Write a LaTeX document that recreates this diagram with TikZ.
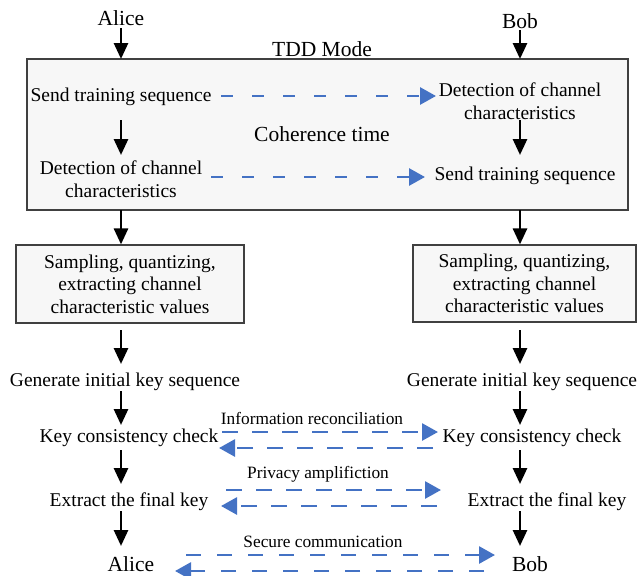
\documentclass[tikz,border=0pt]{standalone}
\usepackage{fontspec}
\setmainfont{Liberation Serif}
\usetikzlibrary{arrows.meta}
\definecolor{dblue}{HTML}{4472C4}
\definecolor{boxfill}{HTML}{F7F7F7}
\tikzset{
  title/.style={font=\fontsize{21.5}{24}\selectfont, inner sep=0pt},
  ttitle/.style={title, yshift=-1.5pt},
  body/.style={font=\fontsize{19.5}{22.5}\selectfont, align=center, inner sep=0pt},
  tbody/.style={body, yshift=-2pt},
  lab/.style={font=\fontsize{17.3}{20}\selectfont, inner sep=0pt, yshift=-1pt},
  flow/.style={line width=2.8pt, -{Triangle[width=14pt,length=16pt]}},
  msg/.style={line width=2.8pt, dblue, -{Triangle[width=17pt,length=16pt]}},
  msgA/.style={msg, dash pattern=on 12pt off 19pt},
  msgB/.style={msg, dash pattern=on 16pt off 14pt},
  frame/.style={draw=black!75, line width=1.2pt, fill=boxfill},
}
\begin{document}
\begin{tikzpicture}[x=1pt,y=-1pt]
\useasboundingbox (0,0) rectangle (638,576);
% big TDD box
\draw[frame] (27,59) rectangle (628,210);
\coordinate (bigTL) at (121,59);
\coordinate (bigTR) at (520,59);
\coordinate (bigBL) at (121,210);
\coordinate (bigBR) at (520,210);
% top labels
\node[ttitle] (alice) at (121,17) {Alice};
\node[ttitle] (bob) at (520,20) {Bob};
\node[ttitle] (tdd) at (322,48) {TDD Mode};
\node[ttitle] (coh) at (322,133) {Coherence time};
\coordinate (aliceS) at (121,28);
\coordinate (bobS) at (520,30);
\draw[flow] (aliceS) -- (bigTL);
\draw[flow] (bobS) -- (bigTR);
% inside box
\node[tbody] (sendL) at (121,95) {Send training sequence};
\node[tbody] (detR) at (520,99) {Detection of channel\\characteristics};
\node[tbody] (detL) at (121,177) {Detection of channel\\characteristics};
\node[tbody] (sendR) at (525,174) {Send training sequence};
\coordinate (sendLb) at (121,120);
\coordinate (detLt) at (121,155);
\coordinate (detRb) at (520,120);
\coordinate (sendRt) at (520,155);
\draw[flow] (sendLb) -- (detLt);
\draw[flow] (detRb) -- (sendRt);
\coordinate (sL) at (221,96);
\coordinate (dR) at (436,96);
\draw[msgA] (sL) -- (dR);
\coordinate (dL) at (211,177);
\coordinate (sR) at (425,177);
\draw[msgA] (dL) -- (sR);
% sampling boxes
\node[body, frame, minimum width=228pt, minimum height=78pt] (sampL) at (130,284) {Sampling, quantizing,\\extracting channel\\characteristic values};
\node[body, frame, minimum width=223pt, minimum height=77pt] (sampR) at (524.5,283.5) {Sampling, quantizing,\\extracting channel\\characteristic values};
\draw[flow] (bigBL) -- (sampL.north -| bigBL);
\draw[flow] (bigBR) -- (sampR.north -| bigBR);
% generate
\node[tbody] (genL) at (125,380) {Generate initial key sequence};
\node[tbody] (genR) at (522,380) {Generate initial key sequence};
\coordinate (a1) at (121,330); \coordinate (a2) at (121,364);
\coordinate (b1) at (520,330); \coordinate (b2) at (520,364);
\draw[flow] (a1) -- (a2);
\draw[flow] (b1) -- (b2);
% key consistency
\node[tbody] (kcL) at (129,436) {Key consistency check};
\node[tbody] (kcR) at (532,436) {Key consistency check};
\coordinate (a3) at (121,391); \coordinate (a4) at (121,425);
\coordinate (b3) at (520,391); \coordinate (b4) at (520,425);
\draw[flow] (a3) -- (a4);
\draw[flow] (b3) -- (b4);
\node[lab] (ir) at (312,417) {Information reconciliation};
\coordinate (ir1) at (222,432); \coordinate (ir2) at (438,432);
\coordinate (ir3) at (433,448); \coordinate (ir4) at (219,448);
\draw[msgB] (ir1) -- (ir2);
\draw[msgB] (ir3) -- (ir4);
% extract
\node[tbody] (exL) at (129,500) {Extract the final key};
\node[tbody] (exR) at (547,500) {Extract the final key};
\coordinate (a5) at (121,450); \coordinate (a6) at (121,484);
\coordinate (b5) at (520,450); \coordinate (b6) at (520,484);
\draw[flow] (a5) -- (a6);
\draw[flow] (b5) -- (b6);
\node[lab] (pa) at (318,473) {Privacy amplifiction};
\coordinate (pa1) at (226,490); \coordinate (pa2) at (441,490);
\coordinate (pa3) at (437,506); \coordinate (pa4) at (221,506);
\draw[msgB] (pa1) -- (pa2);
\draw[msgB] (pa3) -- (pa4);
% final
\node[title] (aliceB) at (131,564) {Alice};
\node[title] (bobB) at (530,564) {Bob};
\coordinate (a7) at (121,511); \coordinate (a8) at (121,546);
\coordinate (b7) at (520,511); \coordinate (b8) at (520,546);
\draw[flow] (a7) -- (a8);
\draw[flow] (b7) -- (b8);
\node[lab] (sc) at (323,541) {Secure communication};
\coordinate (sc1) at (186,555); \coordinate (sc2) at (495,555);
\coordinate (sc3) at (484,571); \coordinate (sc4) at (175,571);
\draw[msg, dash pattern=on 15pt off 16pt] (sc1) -- (sc2);
\draw[msg, dash pattern=on 15pt off 16pt] (sc3) -- (sc4);
\end{tikzpicture}
\end{document}
